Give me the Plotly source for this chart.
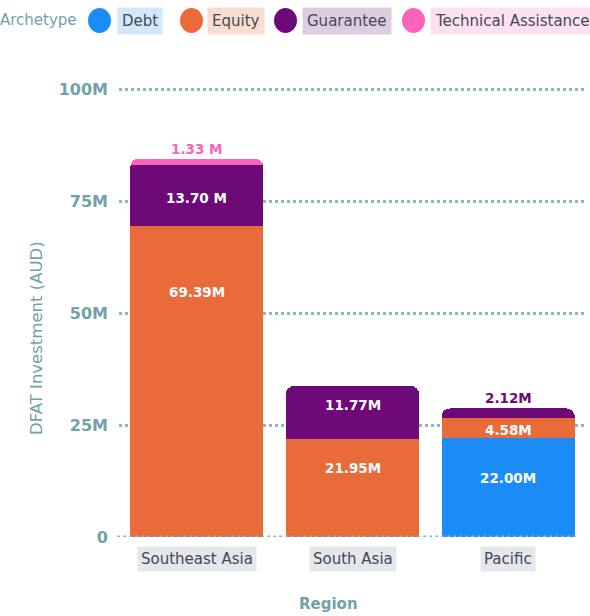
import plotly.graph_objects as go

# ---- data (millions of AUD) ----
regions = ["Southeast Asia", "South Asia", "Pacific"]
archetypes = ["Debt", "Equity", "Guarantee", "Technical Assistance"]
debt = [None, None, 22.00]
equity = [69.39, 21.95, 4.58]
guarantee = [13.70, 11.77, 2.12]
technical_assistance = [1.33, None, None]
labels = {
    "Debt": [None, None, "22.00M"],
    "Equity": ["69.39M", "21.95M", "4.58M"],
    "Guarantee": ["13.70 M", "11.77M", "2.12M"],
    "Technical Assistance": ["1.33 M", None, None],
}
tick_vals = [0, 25, 50, 75, 100]
tick_text = ["0", "25M", "50M", "75M", "100M"]

series = {
    "Debt": debt,
    "Equity": equity,
    "Guarantee": guarantee,
    "Technical Assistance": technical_assistance,
}

# ---- styling ----
colors = {
    "Debt": "#1b8cf5",
    "Equity": "#e86b39",
    "Guarantee": "#6e0a78",
    "Technical Assistance": "#fb63bd",
}
pill_bg = {
    "Debt": "#d3e7fb",
    "Equity": "#f9ddd0",
    "Guarantee": "#ddcde1",
    "Technical Assistance": "#fde1f1",
}
teal = "#6fa3a9"
grid_teal = "#86b9be"
dark = "#434a55"
FONT = "DejaVu Sans"

W, H = 590, 616
ML, MR, MT, MB = 119, 4, 87, 79
PW, PH = W - ML - MR, H - MT - MB
Y_MAX = 100.5


def px_x(p):
    return (p - ML) / PW


def px_y(p):
    return (H - MB - p) / PH


# where each in-bar label sits, as a fraction of its segment height
label_frac = {
    "Debt": [None, None, 0.60],
    "Equity": [0.79, 0.70, 0.42],
    "Guarantee": [0.46, 0.64, None],
    "Technical Assistance": [None, None, None],
}

fig = go.Figure()
for name in archetypes:
    fig.add_trace(go.Bar(
        name=name, x=regions, y=series[name],
        marker=dict(color=colors[name], line=dict(width=0)),
        showlegend=False, hoverinfo="x+y+name",
    ))

annotations = []
shapes = []

# value labels
base = [0.0] * len(regions)
for name in archetypes:
    vals = series[name]
    for i, v in enumerate(vals):
        if v is None:
            continue
        txt = labels[name][i]
        frac = label_frac[name][i]
        top = base[i] + v
        is_top = all(series[n][i] is None for n in archetypes[archetypes.index(name) + 1:])
        if frac is None and is_top:
            annotations.append(dict(
                x=regions[i], y=top, xref="x", yref="y", text=txt,
                showarrow=False, yanchor="bottom", yshift=0,
                font=dict(family=FONT, size=13.5, color=colors[name], weight=700),
            ))
        else:
            annotations.append(dict(
                x=regions[i], y=base[i] + v * frac, xref="x", yref="y", text=txt,
                showarrow=False, yanchor="middle",
                font=dict(family=FONT, size=13.5, color="white", weight=700),
            ))
        base[i] = top

# category labels in grey pills
for r in regions:
    annotations.append(dict(
        x=r, y=px_y(559), xref="x", yref="paper", text=r, showarrow=False,
        xanchor="center", yanchor="middle", bgcolor="#e4e7eb", borderpad=3,
        font=dict(family=FONT, size=15, color=dark),
    ))

# axis titles
annotations.append(dict(
    x=px_x(328), y=px_y(604), xref="paper", yref="paper", text="Region",
    showarrow=False, xanchor="center", yanchor="middle",
    font=dict(family=FONT, size=15, color=teal, weight=700),
))
annotations.append(dict(
    x=px_x(36), y=px_y(338), xref="paper", yref="paper",
    text="DFAT Investment (AUD)", textangle=-90, showarrow=False,
    xanchor="center", yanchor="middle",
    font=dict(family=FONT, size=16.5, color=teal),
))

# legend row
annotations.append(dict(
    x=px_x(79), y=px_y(20), xref="paper", yref="paper", text="Archetype",
    showarrow=False, xanchor="right", yanchor="middle",
    font=dict(family=FONT, size=15, color=teal),
))
legend_pos = {
    "Debt": (88, 117),
    "Equity": (180, 207),
    "Guarantee": (274, 302),
    "Technical Assistance": (402, 430),
}
for name in archetypes:
    cx, tx = legend_pos[name]
    shapes.append(dict(
        type="circle", xref="paper", yref="paper",
        x0=px_x(cx), x1=px_x(cx + 23), y0=px_y(33), y1=px_y(8),
        fillcolor=colors[name], line=dict(width=0), layer="above",
    ))
    annotations.append(dict(
        x=px_x(tx), y=px_y(20.5), xref="paper", yref="paper", text=name,
        showarrow=False, xanchor="left", yanchor="middle",
        bgcolor=pill_bg[name], borderpad=4,
        font=dict(family=FONT, size=15, color=dark),
    ))

# dotted baseline drawn over the bar bottoms
shapes.append(dict(
    type="line", xref="paper", yref="y", x0=-0.004, x1=0.985, y0=0, y1=0,
    line=dict(color=grid_teal, width=3, dash="dot"), layer="above",
))

fig.update_layout(
    width=W, height=H,
    margin=dict(l=ML, r=MR, t=MT, b=MB, autoexpand=False),
    barmode="stack", bargap=0.145, barcornerradius=8,
    plot_bgcolor="white", paper_bgcolor="white",
    font=dict(family=FONT, color=teal),
    annotations=annotations, shapes=shapes,
    xaxis=dict(
        showticklabels=False, showgrid=False, zeroline=False, showline=False,
        ticks="",
    ),
    yaxis=dict(
        range=[0, Y_MAX], tickvals=tick_vals, ticktext=tick_text,
        showgrid=True, gridcolor=grid_teal, gridwidth=3, griddash="dot",
        zeroline=False, showline=False, ticks="", ticklabelstandoff=10,
        tickfont=dict(family=FONT, size=16, color=teal, weight=700),
    ),
)

fig.write_html("out.html")
